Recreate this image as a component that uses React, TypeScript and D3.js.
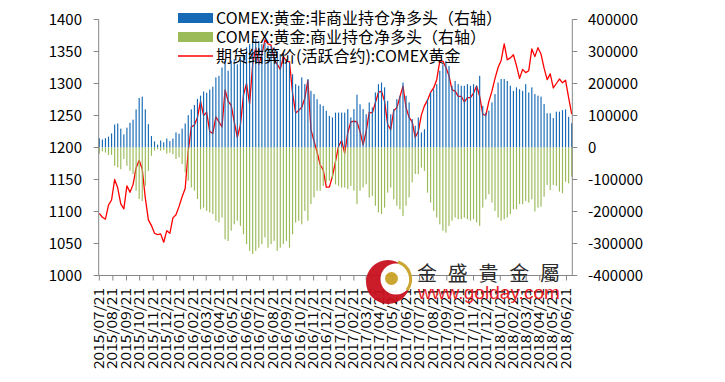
import React from 'react';
import * as d3 from 'd3';

const START = new Date(2015, 6, 21);

const nonCommercial = [
  29000, 25000, 29000, 34000, 44000, 72000, 75000, 59000, 41000, 62000,
  77000, 87000, 119000, 155000, 159000, 119000, 73000, 36000, 19000, 9000,
  22000, 16000, 28000, 20000, 28000, 47000, 43000, 59000, 75000, 101000,
  119000, 133000, 152000, 162000, 175000, 171000, 181000, 190000,
  219000, 224000, 250000, 271000, 240000, 271000, 276000, 260000, 276000, 292000,
  313000, 323000, 333000, 339000, 333000, 323000, 328000, 318000, 318000, 313000,
  302000, 292000, 281000, 276000, 266000, 229000, 198000, 193000, 219000, 198000,
  214000, 177000, 167000, 151000, 135000, 130000, 115000, 99000,
  94000, 109000, 109000, 109000, 109000, 120000, 94000, 120000, 165000, 135000,
  120000, 104000, 141000, 125000, 172000, 198000, 203000, 188000, 146000, 104000,
  120000, 151000, 162000, 203000, 162000, 141000, 89000, 68000, 94000, 47000,
  57000, 151000, 172000, 182000, 198000, 240000, 260000, 271000, 255000,
  193000, 208000, 198000, 193000, 193000, 198000, 193000, 198000, 193000, 224000,
  130000, 109000, 115000, 141000, 167000, 203000, 214000, 214000, 208000, 193000,
  177000, 188000, 182000, 177000, 198000, 172000, 188000, 167000, 162000,
  159000, 136000, 107000, 107000, 92000, 112000, 112000, 117000, 119000, 96000, 76000,
];

const commercial = [
  -19000, -12000, -16000, -23000, -23000, -57000, -62000, -68000, -36000, -57000,
  -73000, -83000, -135000, -161000, -167000, -120000, -73000, -26000, -10000, -5000,
  -10000, -8000, -19000, -16000, -21000, -36000, -31000, -52000, -78000, -104000,
  -125000, -135000, -161000, -193000, -188000, -198000, -203000, -208000,
  -229000, -234000, -219000, -287000, -292000, -260000, -240000, -229000, -245000, -271000,
  -302000, -323000, -333000, -323000, -313000, -302000, -281000, -313000, -302000, -292000,
  -323000, -313000, -302000, -292000, -313000, -271000, -234000, -229000, -240000, -198000,
  -229000, -177000, -156000, -135000, -135000, -120000, -109000, -104000,
  -99000, -115000, -120000, -125000, -125000, -130000, -120000, -135000, -177000, -135000,
  -125000, -115000, -156000, -151000, -182000, -203000, -208000, -188000, -141000, -125000,
  -162000, -182000, -193000, -214000, -182000, -156000, -109000, -83000, -83000, -63000,
  -73000, -141000, -172000, -198000, -219000, -240000, -260000, -266000, -245000,
  -229000, -219000, -224000, -224000, -219000, -224000, -229000, -224000, -234000, -245000,
  -188000, -162000, -146000, -172000, -198000, -219000, -229000, -224000, -219000, -208000,
  -193000, -193000, -177000, -177000, -167000, -172000, -162000, -200000, -188000,
  -185000, -154000, -117000, -133000, -117000, -120000, -138000, -143000, -107000, -112000, -91000,
];

const goldPrice = [
  1097, 1091, 1088, 1110, 1118, 1150, 1137, 1112, 1104, 1140,
  1130, 1142, 1168, 1180, 1166, 1121, 1087, 1078, 1066, 1064,
  1065, 1052, 1070, 1066, 1090, 1095, 1108, 1123, 1136, 1195,
  1232, 1235, 1247, 1272, 1250, 1255, 1225, 1222,
  1248, 1240, 1232, 1290, 1272, 1266, 1240, 1216, 1235, 1282,
  1300, 1268, 1330, 1356, 1330, 1345, 1368, 1362, 1360, 1338,
  1330, 1322, 1342, 1335, 1334, 1285, 1254, 1258, 1263, 1277,
  1305, 1228, 1210, 1193, 1173, 1165, 1138, 1138, 1155,
  1178, 1202, 1211, 1191, 1223, 1240, 1241, 1240, 1225, 1204,
  1225, 1255, 1254, 1270, 1286, 1288, 1272, 1236, 1228, 1258,
  1262, 1279, 1296, 1262, 1247, 1240, 1216, 1225, 1251, 1265,
  1274, 1286, 1293, 1306, 1335, 1335, 1325, 1312,
  1290, 1288, 1280, 1280, 1271, 1278, 1278, 1285, 1296, 1280,
  1252, 1250, 1272, 1288, 1308, 1325, 1336, 1362, 1337, 1340,
  1345, 1328, 1308, 1322, 1317, 1320, 1354, 1342, 1356, 1346,
  1324, 1306, 1315, 1293, 1300, 1307, 1301, 1305, 1278, 1252,
];

const leftTicks = [1000, 1050, 1100, 1150, 1200, 1250, 1300, 1350, 1400];
const rightTicks = [-400000, -300000, -200000, -100000, 0, 100000, 200000, 300000, 400000];
const monthCount = 36;
const legendLabels = [
  'COMEX:黄金:非商业持仓净多头（右轴）',
  'COMEX:黄金:商业持仓净多头（右轴）',
  '期货结算价(活跃合约):COMEX黄金',
];
const logoName = '金盛貴金屬';
const logoUrl = 'www.golday.com';

const BLUE = '#166ab5';
const GREEN = '#9bbb59';
const RED = '#ff0000';
const AXIS = '#868686';
const FONT = '"Noto Sans CJK SC", "Noto Sans", sans-serif';

export default function App() {
  const W = 725;
  const H = 382;
  const left = 98.7;
  const right = 572.3;
  const top = 19.5;
  const bottom = 275.5;

  const weeks = nonCommercial.map((_, i) => d3.timeDay.offset(START, 7 * i));
  const x = d3
    .scaleTime()
    .domain([weeks[0], weeks[weeks.length - 1]])
    .range([99.3, 571.7]);
  const yL = d3.scaleLinear().domain([1000, 1400]).range([bottom, top]);
  const yR = d3.scaleLinear().domain([-400000, 400000]).range([bottom, top]);

  const months = d3.range(monthCount).map((m) => new Date(2015, 6 + m, 21));
  const fmt = d3.timeFormat('%Y/%m/%d');

  const line = d3
    .line<number>()
    .x((_, i) => x(weeks[i]))
    .y((d) => yL(d))
    .curve(d3.curveLinear);

  const bw = 1.15;

  return (
    <svg
      width={W}
      height={H}
      style={{ position: 'absolute', left: 0, top: 0, background: '#fff' }}
      fontFamily={FONT}
    >
      <rect x={0} y={0} width={W} height={H} fill="#fff" />

      {/* price line (primary axis, drawn beneath the bars) */}
      <path d={line(goldPrice) || ''} fill="none" stroke={RED} strokeWidth={1.3} strokeLinejoin="round" />

      {/* bars (secondary axis) */}
      {nonCommercial.map((v, i) => (
        <rect
          key={'b' + i}
          x={x(weeks[i]) - bw / 2}
          y={yR(Math.max(0, v))}
          width={bw}
          height={Math.abs(yR(v) - yR(0))}
          fill={BLUE}
        />
      ))}
      {commercial.map((v, i) => (
        <rect
          key={'g' + i}
          x={x(weeks[i]) - bw / 2}
          y={yR(0)}
          width={bw}
          height={Math.abs(yR(v) - yR(0))}
          fill={GREEN}
        />
      ))}

      {/* axes */}
      <line x1={left} x2={left} y1={top} y2={bottom} stroke={AXIS} strokeWidth={1} />
      <line x1={right} x2={right} y1={top} y2={bottom} stroke={AXIS} strokeWidth={1} />
      <line x1={left} x2={right} y1={bottom} y2={bottom} stroke={AXIS} strokeWidth={1} />

      {leftTicks.map((t) => (
        <g key={'lt' + t}>
          <line x1={left - 5} x2={left} y1={yL(t)} y2={yL(t)} stroke={AXIS} />
          <text x={82} y={yL(t)} dy="0.36em" textAnchor="end" fontSize={15} fill="#000">
            {t}
          </text>
        </g>
      ))}
      {rightTicks.map((t) => (
        <g key={'rt' + t}>
          <line x1={right} x2={right + 5} y1={yR(t)} y2={yR(t)} stroke={AXIS} />
          <text x={588} y={yR(t)} dy="0.36em" textAnchor="start" fontSize={15} fill="#000">
            {t}
          </text>
        </g>
      ))}
      {months.map((m, i) => {
        const px = x(m);
        return (
          <g key={'m' + i}>
            <line x1={px} x2={px} y1={bottom} y2={bottom + 5} stroke={AXIS} />
            <text
              transform={`translate(${px + 4.5},288) rotate(-90)`}
              textAnchor="end"
              fontSize={13}
              textLength={81}
              lengthAdjust="spacingAndGlyphs"
              fill="#000"
            >
              {fmt(m)}
            </text>
          </g>
        );
      })}

      {/* legend */}
      <rect x={178} y={13} width={35} height={10} fill={BLUE} />
      <rect x={178} y={32} width={35} height={10} fill={GREEN} />
      <line x1={178} x2={213} y1={56} y2={56} stroke={RED} strokeWidth={1.4} />
      {legendLabels.map((l, i) => (
        <text key={'lg' + i} x={216} y={18 + i * 19} dy="0.36em" fontSize={16} fill="#000">
          {l}
        </text>
      ))}

      {/* watermark logo */}
      <g opacity={0.95}>
        <circle cx={388} cy={282} r={22} fill="#c8101e" />
        <circle cx={396} cy={279} r={15.5} fill="#fff" />
        <circle cx={391.5} cy={278.5} r={6.5} fill="#c9a227" />
        <path d="M 398 262 A 18 18 0 0 1 407 290" fill="none" stroke="#c9a227" strokeWidth={3} />
        <text x={417} y={281} fontSize={20} fill="#222" textLength={143} lengthAdjust="spacing">
          {logoName}
        </text>
        <text x={418} y={299} fontSize={19} fill="#e8141c" textLength={142} lengthAdjust="spacingAndGlyphs" fontFamily='"Liberation Sans", Arial, sans-serif'>
          {logoUrl}
        </text>
      </g>
    </svg>
  );
}
